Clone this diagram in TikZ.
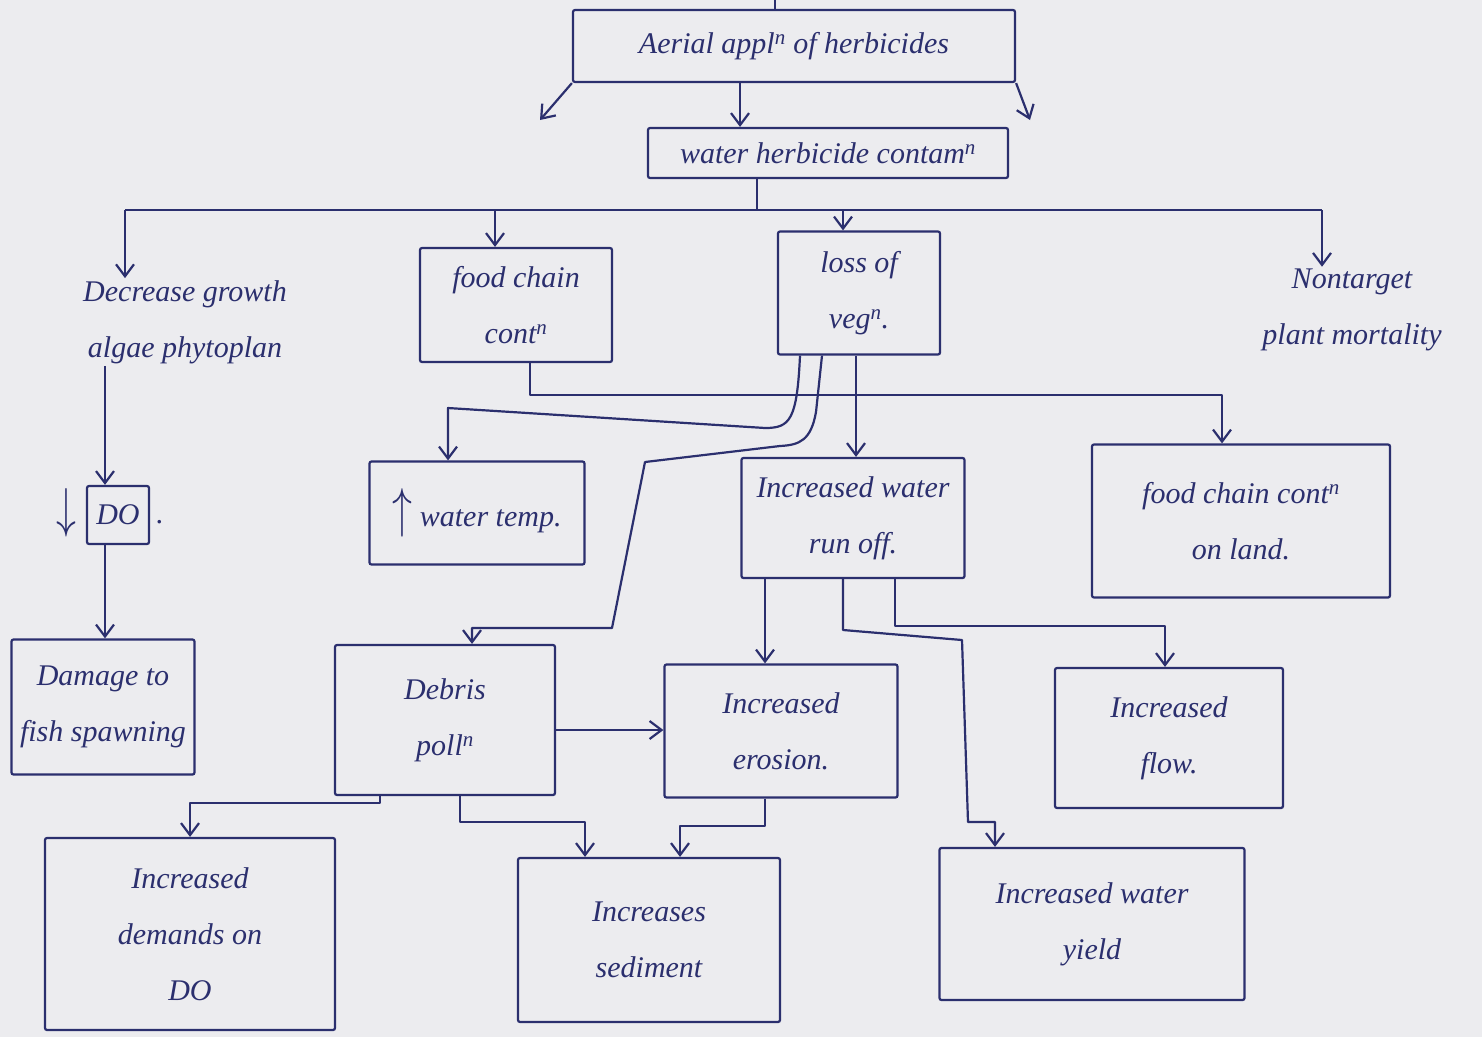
\documentclass[tikz,border=0pt]{standalone}
\usepackage{fontspec}
\setmainfont{Liberation Serif}
\usetikzlibrary{calc,arrows.meta}
\definecolor{ink}{HTML}{2B2F6E}
\definecolor{paper}{HTML}{ECECEF}
\begin{document}
\begin{tikzpicture}[x=1pt,y=-1pt,
  box/.style={draw=ink, line width=2.2pt, text=ink, align=center, inner sep=4pt,
    rounded corners=2pt, font=\fontsize{30}{56}\selectfont\itshape},
  lbl/.style={text=ink, align=center, inner sep=2pt, font=\fontsize{30}{56}\selectfont\itshape},
  link/.style={draw=ink, line width=2.2pt, line join=round},
  arr/.style={link, -{Straight Barb[length=12pt,width=18pt,line width=2.2pt]}}]
\fill[paper] (0,0) rectangle (1482,1037);
\useasboundingbox (0,0) rectangle (1482,1037);

% nodes
\node[box, minimum width=442pt, minimum height=72pt] (aerial) at (794,46) {Aerial appl\textsuperscript{n} of herbicides};
\node[box, minimum width=360pt, minimum height=50pt] (water) at (828,153) {water herbicide contam\textsuperscript{n}};
\node[lbl] (decrease) at (185,322) {Decrease growth\\algae phytoplan};
\node[box, minimum width=192pt, minimum height=114pt] (food) at (516,305) {food chain\\cont\textsuperscript{n}};
\node[box, minimum width=162pt, minimum height=123pt] (loss) at (859,293) {loss of\\veg\textsuperscript{n}.};
\node[lbl] (nontarget) at (1352,310) {Nontarget\\plant mortality};
\node[box, minimum width=62pt, minimum height=58pt] (do) at (118,515) {DO};
\node[lbl] (doarr) at (66,513) {\scalebox{1.6}[2.2]{$\downarrow$}};
\node[lbl] (dodot) at (160,522) {.};
\node[box, minimum width=215pt, minimum height=103pt] (watertemp) at (477,513) {\scalebox{1.6}[2.2]{$\uparrow$} water temp.};
\node[box, minimum width=223pt, minimum height=120pt] (runoff) at (853,518) {Increased water\\run off.};
\node[box, minimum width=298pt, minimum height=153pt] (foodland) at (1241,521) {food chain cont\textsuperscript{n}\\on land.};
\node[box, minimum width=183pt, minimum height=135pt] (damage) at (103,707) {Damage to\\fish spawning};
\node[box, minimum width=220pt, minimum height=150pt] (debris) at (445,720) {Debris\\poll\textsuperscript{n}};
\node[box, minimum width=233pt, minimum height=133pt] (erosion) at (781,731) {Increased\\erosion.};
\node[box, minimum width=228pt, minimum height=140pt] (flow) at (1169,738) {Increased\\flow.};
\node[box, minimum width=290pt, minimum height=192pt] (demands) at (190,934) {Increased\\demands on\\DO};
\node[box, minimum width=262pt, minimum height=164pt] (sediment) at (649,940) {Increases\\sediment};
\node[box, minimum width=305pt, minimum height=152pt] (yield) at (1092,924) {Increased water\\yield};

% top
\coordinate (top) at (775,0);
\draw[link] (top) -- (aerial.north -| top);
\coordinate (fl) at (540,120);
\coordinate (fr) at (1030,120);
\draw[arr] (aerial.south west) -- (fl);
\draw[arr] (aerial.south east) -- (fr);
\coordinate (aw) at (740,0);
\draw[arr] (aerial.south -| aw) -- (water.north -| aw);

% bus
\coordinate (wb) at (757,210);
\coordinate (busL) at (125,210);
\coordinate (busR) at (1322,210);
\coordinate (bf) at (495,210);
\coordinate (bl) at (843,210);
\draw[link] (water.south -| wb) -- (wb);
\draw[link] (busL) -- (busR);
\draw[arr] (busL) -- (decrease.north -| busL);
\draw[arr] (bf) -- (food.north -| bf);
\draw[arr] (bl) -- (loss.north -| bl);
\draw[arr] (busR) -- (nontarget.north -| busR);

% left column
\coordinate (dd) at (105,0);
\draw[arr] (decrease.south -| dd) -- (do.north -| dd);
\draw[arr] (do.south -| dd) -- (damage.north -| dd);

% food chain -> on land
\coordinate (f1) at (530,395);
\coordinate (f2) at (1222,395);
\draw[arr] (food.south -| f1) -- (f1) -- (f2) -- (foodland.north -| f2);

% loss of vegetation
\coordinate (l1) at (800,0);
\coordinate (wt) at (448,408);
\draw[arr] (loss.south -| l1) .. controls (797,420) and (790,428) .. (765,428) -- (wt) -- (watertemp.north -| wt);
\coordinate (l2) at (822,0);
\coordinate (db) at (472,628);
\draw[arr] (loss.south -| l2) -- (816,412) .. controls (811,440) and (800,445) .. (780,446) -- (645,462) -- (612,628) -- (db) -- (debris.north -| db);
\coordinate (l3) at (856,0);
\draw[arr] (loss.south -| l3) -- (runoff.north -| l3);

% debris
\coordinate (de) at (0,730);
\draw[arr] (debris.east |- de) -- (erosion.west |- de);
\coordinate (dm1) at (380,803);
\coordinate (dm2) at (190,803);
\draw[arr] (debris.south -| dm1) -- (dm1) -- (dm2) -- (demands.north -| dm2);
\coordinate (ds1) at (460,822);
\coordinate (ds2) at (585,822);
\draw[arr] (debris.south -| ds1) -- (ds1) -- (ds2) -- (sediment.north -| ds2);

% erosion -> sediment
\coordinate (es1) at (765,826);
\coordinate (es2) at (680,826);
\draw[arr] (erosion.south -| es1) -- (es1) -- (es2) -- (sediment.north -| es2);

% run off
\coordinate (re) at (765,0);
\draw[arr] (runoff.south -| re) -- (erosion.north -| re);
\coordinate (ry1) at (843,630);
\coordinate (ry2) at (962,640);
\coordinate (ry3) at (968,822);
\coordinate (ry4) at (995,822);
\draw[arr] (runoff.south -| ry1) -- (ry1) -- (ry2) -- (ry3) -- (ry4) -- (yield.north -| ry4);
\coordinate (rf1) at (895,626);
\coordinate (rf2) at (1165,626);
\draw[arr] (runoff.south -| rf1) -- (rf1) -- (rf2) -- (flow.north -| rf2);
\end{tikzpicture}
\end{document}
